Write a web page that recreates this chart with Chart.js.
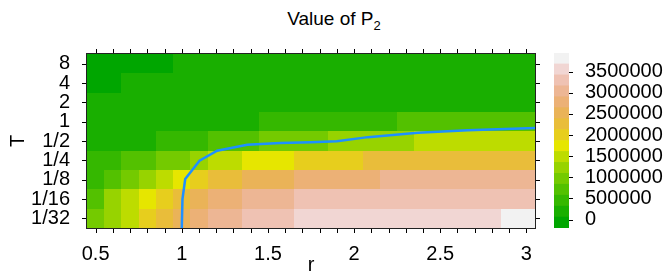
<!DOCTYPE html>
<html>
<head>
<meta charset="utf-8">
<script src="https://cdn.jsdelivr.net/npm/chart.js@4.4.0/dist/chart.umd.min.js"></script>
<style>
  body { margin: 0; background: #fff; }
  #wrap { position: relative; width: 668px; height: 278px; font-family: 'Liberation Sans', Arial, sans-serif; }
  #title { position: absolute; left: 0; top: 8px; width: 668px; text-align: center; font-size: 19px; line-height: 22px; }
  #title sub { font-size: 13px; line-height: 0; }
  #main { position: absolute; left: 0; top: 0; }
  #key { position: absolute; left: 540px; top: 0; }
</style>
</head>
<body>
<div id="wrap">
  <div id="title">Value of P<sub>2</sub></div>
  <canvas id="main" width="545" height="278"></canvas>
  <canvas id="key" width="128" height="278"></canvas>
</div>
<script>
// Grid: r along x (cell centres), T along y (log2 positions)
const rValues = [0.5, 0.6, 0.7, 0.8, 0.9, 1.0, 1.1, 1.2, 1.3, 1.4, 1.5, 1.6, 1.7,
                 1.8, 1.9, 2.0, 2.1, 2.2, 2.3, 2.4, 2.5, 2.6, 2.7, 2.8, 2.9, 3.0];
const tLabels = ['1/32', '1/16', '1/8', '1/4', '1/2', '1', '2', '4', '8'];
const tLog2 = [-5, -4, -3, -2, -1, 0, 1, 2, 3];
const xLabelValues = [0.5, 1, 1.5, 2, 2.5, 3];

// Value of P2, one array per T row
const pT1_32 = [965000, 1225000, 1480000, 2000000, 2260000, 2515000, 2775000, 3035000, 3035000,
  3295000, 3295000, 3295000, 3550000, 3550000, 3550000, 3550000, 3550000, 3550000, 3550000,
  3550000, 3550000, 3550000, 3550000, 3550000, 3810000, 3810000];
const pT1_16 = [705000, 1225000, 1480000, 1740000, 2000000, 2260000, 2515000, 2775000, 2775000,
  3035000, 3035000, 3035000, 3295000, 3295000, 3295000, 3295000, 3295000, 3295000, 3295000,
  3295000, 3295000, 3295000, 3295000, 3295000, 3295000, 3295000];
const pT1_8 = [450000, 705000, 965000, 1225000, 1480000, 1740000, 2000000, 2260000, 2260000,
  2515000, 2515000, 2515000, 2775000, 2775000, 2775000, 2775000, 2775000, 3035000, 3035000,
  3035000, 3035000, 3035000, 3035000, 3035000, 3035000, 3035000];
const pT1_4 = [450000, 450000, 705000, 705000, 965000, 965000, 1225000, 1480000, 1480000,
  1740000, 1740000, 1740000, 2000000, 2000000, 2000000, 2000000, 2260000, 2260000, 2260000,
  2260000, 2260000, 2260000, 2260000, 2260000, 2260000, 2260000];
const pT1_2 = [190000, 190000, 190000, 190000, 450000, 450000, 450000, 705000, 705000, 705000,
  965000, 965000, 965000, 965000, 1225000, 1225000, 1225000, 1225000, 1225000, 1480000,
  1480000, 1480000, 1480000, 1480000, 1480000, 1480000];
const pT1 = [190000, 190000, 190000, 190000, 190000, 190000, 190000, 190000, 190000, 190000,
  450000, 450000, 450000, 450000, 450000, 450000, 450000, 450000, 705000, 705000, 705000,
  705000, 705000, 705000, 705000, 705000];
const pT2 = [190000, 190000, 190000, 190000, 190000, 190000, 190000, 190000, 190000, 190000,
  190000, 190000, 190000, 190000, 190000, 190000, 190000, 190000, 190000, 190000, 190000,
  190000, 190000, 190000, 190000, 190000];
const pT4 = [-70000, -70000, 190000, 190000, 190000, 190000, 190000, 190000, 190000, 190000,
  190000, 190000, 190000, 190000, 190000, 190000, 190000, 190000, 190000, 190000, 190000,
  190000, 190000, 190000, 190000, 190000];
const pT8 = [-70000, -70000, -70000, -70000, -70000, 190000, 190000, 190000, 190000, 190000,
  190000, 190000, 190000, 190000, 190000, 190000, 190000, 190000, 190000, 190000, 190000,
  190000, 190000, 190000, 190000, 190000];
const pRows = [pT1_32, pT1_16, pT1_8, pT1_4, pT1_2, pT1, pT2, pT4, pT8];

// Blue boundary curve (r, log2 T)
const lineR = [1.0, 1.004, 1.02, 1.103, 1.205, 1.38, 1.57, 1.75, 1.90, 2.08, 2.37, 2.66, 3.05];
const lineLog2T = [-5.5, -4.01, -2.97, -2.02, -1.5, -1.2, -1.1, -1.06, -1.01, -0.8, -0.57, -0.45, -0.33];

// Colour key
const keyMin = -200000;
const keyMax = 3940000;
const keyBins = 16;
const keyTicks = [0, 500000, 1000000, 1500000, 2000000, 2500000, 3000000, 3500000];

// R terrain.colors()
function hsv(h, s, v) {
  const i = Math.floor(h * 6 + 1e-9) % 6, f = h * 6 - Math.floor(h * 6 + 1e-9);
  const p = v * (1 - s), q = v * (1 - f * s), t = v * (1 - (1 - f) * s);
  const [r, g, b] = [[v, t, p], [q, v, p], [p, v, t], [p, q, v], [t, p, v], [v, p, q]][i];
  return `rgb(${Math.round(r * 255)},${Math.round(g * 255)},${Math.round(b * 255)})`;
}

function terrainColors(n) {
  const seq = (a, b, len) => Array.from({ length: len }, (_, i) => len === 1 ? a : a + (b - a) * i / (len - 1));
  const k = Math.floor(n / 2), m = n - k + 1, out = [];
  const h1 = seq(4 / 12, 2 / 12, k), v1 = seq(0.65, 0.9, k);
  for (let i = 0; i < k; i++) out.push(hsv(h1[i], 1, v1[i]));
  const h2 = seq(2 / 12, 0, m), s2 = seq(1, 0, m), v2 = seq(0.9, 0.95, m);
  for (let i = 1; i < m; i++) out.push(hsv(h2[i], s2[i], v2[i]));
  return out;
}

const palette = terrainColors(keyBins);
const binWidth = (keyMax - keyMin) / keyBins;

function colorFor(v) {
  const b = Math.min(keyBins - 1, Math.max(0, Math.floor((v - keyMin) / binWidth)));
  return palette[b];
}

Chart.defaults.font.family = "'Liberation Sans', Arial, sans-serif";
Chart.defaults.font.size = 20;
Chart.defaults.color = '#000';

const heatmapPlugin = {
  id: 'heatmap',
  beforeDatasetsDraw(chart) {
    const { ctx, scales: { x, y } } = chart;
    ctx.save();
    pRows.forEach((row, i) => {
      row.forEach((v, j) => {
        const x0 = Math.round(x.getPixelForValue(rValues[j] - 0.05));
        const x1 = Math.round(x.getPixelForValue(rValues[j] + 0.05));
        const y0 = Math.round(y.getPixelForValue(tLog2[i] + 0.5));
        const y1 = Math.round(y.getPixelForValue(tLog2[i] - 0.5));
        ctx.fillStyle = colorFor(v);
        ctx.fillRect(x0, y0, x1 - x0, y1 - y0);
      });
    });
    ctx.restore();
  }
};

// Outward tick marks on all four sides, drawn from each scale's own ticks,
// plus the box round the plot area
const tickMarksPlugin = {
  id: 'tickMarks',
  afterDraw(chart, args, opts) {
    const ctx = chart.ctx;
    ctx.save();
    ctx.strokeStyle = '#000';
    ctx.lineWidth = 1;
    ctx.beginPath();
    Object.values(chart.scales).forEach(s => {
      const len = s.options.markLength || 0;
      if (!len) return;
      s.ticks.forEach((t, i) => {
        const p = Math.round(s.getPixelForTick(i)) + 0.5;
        if (s.position === 'bottom') { ctx.moveTo(p, s.top); ctx.lineTo(p, s.top + len); }
        if (s.position === 'top') { ctx.moveTo(p, s.bottom); ctx.lineTo(p, s.bottom - len); }
        if (s.position === 'left') { ctx.moveTo(s.right, p); ctx.lineTo(s.right - len, p); }
        if (s.position === 'right') { ctx.moveTo(s.left, p); ctx.lineTo(s.left + len, p); }
      });
    });
    ctx.stroke();
    if (opts.frame) {
      const a = chart.chartArea;
      ctx.strokeStyle = opts.frame;
      ctx.strokeRect(Math.round(a.left) - 0.5, Math.round(a.top) - 0.5,
        Math.round(a.right) - Math.round(a.left) + 1, Math.round(a.bottom) - Math.round(a.top) + 1);
    }
    ctx.restore();
  }
};

const gridStyle = { display: false };
const borderStyle = { display: false };
const setXTicks = s => { s.ticks = rValues.map(v => ({ value: v })); };
const setYTicks = s => { s.ticks = tLog2.map(v => ({ value: v })); };

new Chart(document.getElementById('main'), {
  type: 'scatter',
  data: {
    datasets: [{
      data: lineR.map((r, i) => ({ x: r, y: lineLog2T[i] })),
      showLine: true,
      borderColor: '#1E90FF',
      borderWidth: 2.5,
      pointRadius: 0,
      tension: 0
    }]
  },
  options: {
    responsive: false,
    animation: false,
    devicePixelRatio: 1,
    layout: { padding: { top: 49, right: 5, bottom: 0, left: 0 } },
    plugins: { legend: { display: false }, tooltip: { enabled: false }, tickMarks: { frame: '#222' } },
    scales: {
      x: {
        type: 'linear', position: 'bottom', min: 0.45, max: 3.05, markLength: 5,
        afterBuildTicks: setXTicks,
        afterFit: s => { s.height = 50; },
        grid: gridStyle, border: borderStyle,
        ticks: {
          autoSkip: false, maxRotation: 0, padding: 6,
          callback: v => xLabelValues.some(l => Math.abs(l - v) < 1e-6) ? String(+v.toFixed(1)) : ''
        },
        title: { display: true, text: 'r', padding: { top: 0, bottom: 1 } }
      },
      x2: {
        type: 'linear', position: 'top', min: 0.45, max: 3.05, markLength: 5,
        afterBuildTicks: setXTicks,
        afterFit: s => { s.height = 5; },
        grid: gridStyle, border: borderStyle,
        ticks: { autoSkip: false, callback: () => '' }
      },
      y: {
        type: 'linear', position: 'left', min: -5.5, max: 3.5, markLength: 5,
        afterBuildTicks: setYTicks,
        afterFit: s => { s.width = 87; },
        grid: gridStyle, border: borderStyle,
        ticks: { autoSkip: false, padding: 9, callback: v => tLabels[tLog2.indexOf(v)] },
        title: { display: true, text: 'T', padding: { top: 6, bottom: 0 } }
      },
      y2: {
        type: 'linear', position: 'right', min: -5.5, max: 3.5, markLength: 5,
        afterBuildTicks: setYTicks,
        afterFit: s => { s.width = 5; },
        grid: gridStyle, border: borderStyle,
        ticks: { autoSkip: false, callback: () => '' }
      }
    }
  },
  plugins: [heatmapPlugin, tickMarksPlugin]
});

// Colour key as floating bars, one per bin
const keyDatasets = palette.map((c, b) => ({
  data: [[keyMin + b * binWidth, keyMin + (b + 1) * binWidth]],
  backgroundColor: c,
  borderWidth: 0,
  grouped: false,
  barPercentage: 1,
  categoryPercentage: 1
}));
keyDatasets.push({
  data: [[keyMin, keyMax]],
  backgroundColor: 'rgba(0,0,0,0)',
  borderColor: '#666',
  borderWidth: 1,
  borderSkipped: false,
  grouped: false,
  barPercentage: 1,
  categoryPercentage: 1
});

new Chart(document.getElementById('key'), {
  type: 'bar',
  data: { labels: [''], datasets: keyDatasets },
  options: {
    responsive: false,
    animation: false,
    devicePixelRatio: 1,
    layout: { padding: { top: 53, right: 0, bottom: 50, left: 14 } },
    plugins: { legend: { display: false }, tooltip: { enabled: false }, tickMarks: { frame: null } },
    scales: {
      x: { display: false },
      y: {
        position: 'right', min: keyMin, max: keyMax, markLength: 4,
        afterBuildTicks: s => { s.ticks = keyTicks.map(v => ({ value: v })); },
        afterFit: s => { s.width = 99; },
        grid: { display: false },
        border: { display: false },
        ticks: { autoSkip: false, padding: 8, callback: v => String(v) }
      }
    }
  },
  plugins: [tickMarksPlugin]
});
</script>
</body>
</html>
